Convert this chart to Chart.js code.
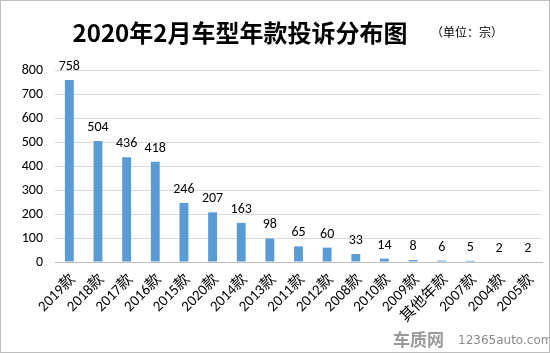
<!DOCTYPE html>
<html>
<head>
<meta charset="utf-8">
<script src="https://cdn.jsdelivr.net/npm/chart.js@4.4.1/dist/chart.umd.min.js"></script>
<style>
  html, body { margin: 0; padding: 0; background: #fff; }
  #wrap { position: relative; width: 548px; height: 351px; border: 1px solid #bdbdbd; }
</style>
</head>
<body>
<div id="wrap"><canvas id="c" width="548" height="351"></canvas></div>
<script>
/* 2020年2月车型年款投诉分布图 */
const CATEGORIES = ['2019款', '2018款', '2017款', '2016款', '2015款', '2020款', '2014款', '2013款', '2011款',
                    '2012款', '2008款', '2010款', '2009款', '其他年款', '2007款', '2004款', '2005款'];
const COMPLAINTS = [758, 504, 436, 418, 246, 207, 163, 98, 65, 60, 33, 14, 8, 6, 5, 2, 2];
const Y_TICKS    = [0, 100, 200, 300, 400, 500, 600, 700, 800];

const FONT = 'Calibri, "Liberation Sans", "Noto Sans CJK SC", sans-serif';
const CJK  = '"Noto Sans CJK SC", sans-serif';

/* title, value labels above bars, unit note, watermark */
const extras = {
  id: 'extras',
  afterDatasetsDraw(chart) {
    const ctx = chart.ctx;
    const meta = chart.getDatasetMeta(0);
    ctx.save();
    ctx.fillStyle = '#000';
    ctx.font = '14px ' + FONT;
    ctx.textAlign = 'center';
    ctx.textBaseline = 'alphabetic';
    meta.data.forEach((bar, i) => {
      ctx.fillText(String(COMPLAINTS[i]), bar.x, bar.y - 10);
    });

    ctx.font = 'bold 24px ' + CJK;
    ctx.textBaseline = 'middle';
    ctx.fillText('2020年2月车型年款投诉分布图', 239, 32);

    ctx.font = '12px ' + CJK;
    ctx.textAlign = 'left';
    ctx.fillText('（单位：宗）', 430, 31);

    ctx.fillStyle = '#9a9a9a';
    ctx.font = 'bold 17px ' + CJK;
    ctx.fillText('车质网', 392, 339);
    ctx.fillStyle = '#8a8a8a';
    ctx.font = '12px "DejaVu Sans", sans-serif';
    ctx.fillText('12365auto.com', 457, 340);
    ctx.restore();
  }
};

new Chart(document.getElementById('c'), {
  type: 'bar',
  data: {
    labels: CATEGORIES,
    datasets: [{
      data: COMPLAINTS,
      backgroundColor: '#5b9bd5',
      barPercentage: 0.31,
      categoryPercentage: 1,
    }],
  },
  options: {
    responsive: false,
    animation: false,
    layout: { padding: { top: 69, left: 0, right: 7, bottom: 0 } },
    plugins: {
      legend: { display: false },
      tooltip: { enabled: false },
      title: { display: false },
    },
    scales: {
      x: {
        grid: { display: false },
        border: { color: '#bfbfbf' },
        afterFit: axis => { axis.height = 90; },
        ticks: {
          color: '#000',
          font: { family: FONT, size: 15 },
          minRotation: 45,
          maxRotation: 45,
          autoSkip: false,
          labelOffset: 4,
          padding: 1,
        },
      },
      y: {
        min: 0,
        max: 800,
        afterBuildTicks: axis => { axis.ticks = Y_TICKS.map(v => ({ value: v })); },
        afterFit: axis => { axis.width = 54; },
        grid: { color: '#d9d9d9', drawTicks: false },
        border: { display: false },
        ticks: { color: '#000', font: { family: FONT, size: 14 }, padding: 12 },
      },
    },
  },
  plugins: [extras],
});
</script>
</body>
</html>
